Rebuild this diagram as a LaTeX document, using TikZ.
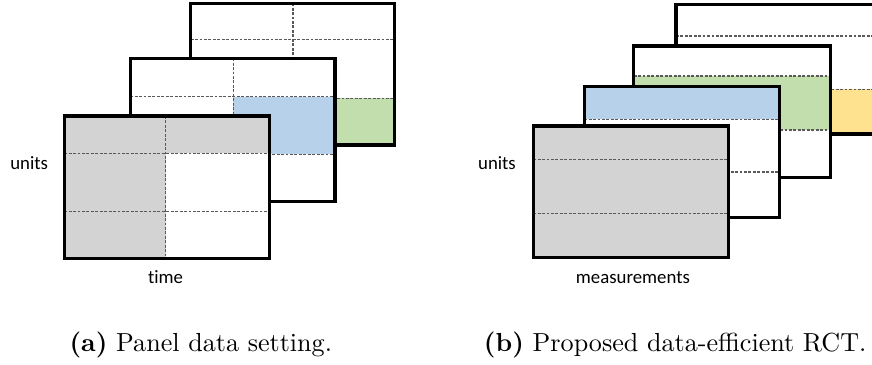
\documentclass[tikz,border=0pt]{standalone}
\usepackage{fontspec}
\newfontfamily\lblfont{Carlito}[Ligatures={NoCommon}]
\definecolor{cellgray}{RGB}{211,211,211}
\definecolor{cellblue}{RGB}{183,209,234}
\definecolor{cellgreen}{RGB}{193,222,172}
\definecolor{cellyellow}{RGB}{255,226,143}
\tikzset{
  panelborder/.style={draw=black, line width=1.2pt, line join=miter},
  gridline/.style={draw=black!65, line width=0.45pt, dash pattern=on 1.1pt off 0.6pt},
  axislabel/.style={font=\lblfont\fontsize{7.2pt}{8.6pt}\selectfont, inner sep=0pt},
  captionlabel/.style={font=\fontsize{10pt}{12pt}\selectfont, inner sep=0pt, anchor=base},
}
\begin{document}
\begin{tikzpicture}[x=0.3831pt, y=-0.3831pt]
\useasboundingbox (0,0) rectangle (872,364);
\clip (0,0) rectangle (872,364);
\fill[white] (0,0) rectangle (872,364);

% ---------- (a) panel data setting ----------
% back panel
\fill[white] (190.7,3.3) rectangle (394.3,145);
\fill[cellgreen] (293,98.3) rectangle (394.3,145);
\draw[gridline] (293,3.3) -- (293,145);
\draw[gridline] (190.7,39.3) -- (394.3,39.3);
\draw[gridline] (190.7,98.3) -- (394.3,98.3);
\draw[panelborder] (190.7,3.3) rectangle (394.3,145);
% middle panel
\fill[white] (130.3,58.3) rectangle (335,201.7);
\fill[cellblue] (233.3,96.7) rectangle (335,154.3);
\draw[gridline] (233.3,58.3) -- (233.3,201.7);
\draw[gridline] (130.3,96.7) -- (335,96.7);
\draw[gridline] (130.3,154.3) -- (335,154.3);
\draw[panelborder] (130.3,58.3) rectangle (335,201.7);
% front panel
\fill[white] (64.3,116) rectangle (269.3,258.3);
\fill[cellgray] (64.3,116) rectangle (165.7,258.3);
\fill[cellgray] (165.7,116) rectangle (269.3,153.3);
\draw[gridline] (165.7,116) -- (165.7,258.3);
\draw[gridline] (64.3,153.3) -- (269.3,153.3);
\draw[gridline] (64.3,211.7) -- (269.3,211.7);
\draw[panelborder] (64.3,116) rectangle (269.3,258.3);

\node[axislabel] (unitsA) at (29.2,163.5) {units};
\node[axislabel] (timeA) at (165.5,277.5) {time};
\node[captionlabel] (capA) at (200.8,351) {\textbf{(a)} Panel data setting.};

% ---------- (b) proposed data-efficient RCT ----------
% panel 4 (back)
\fill[white] (676,4.3) rectangle (878,134);
\fill[cellyellow] (676,89.3) rectangle (878,134);
\draw[gridline] (676,36) -- (878,36);
\draw[gridline] (676,89.3) -- (878,89.3);
\draw[panelborder] (676,4.3) rectangle (878,134);
% panel 3
\fill[white] (633.7,46) rectangle (830.3,177.7);
\fill[cellgreen] (633.7,76) rectangle (830.3,130);
\draw[gridline] (633.7,76) -- (830.3,76);
\draw[gridline] (633.7,130) -- (830.3,130);
\draw[panelborder] (633.7,46) rectangle (830.3,177.7);
% panel 2
\fill[white] (584.3,86.7) rectangle (779.3,217.7);
\fill[cellblue] (584.3,86.7) rectangle (779.3,119.3);
\draw[gridline] (584.3,119.3) -- (779.3,119.3);
\draw[gridline] (584.3,172) -- (779.3,172);
\draw[panelborder] (584.3,86.7) rectangle (779.3,217.7);
% panel 1 (front)
\fill[cellgray] (533.3,126) rectangle (728.7,257.3);
\draw[gridline] (533.3,159.3) -- (728.7,159.3);
\draw[gridline] (533.3,213.3) -- (728.7,213.3);
\draw[panelborder] (533.3,126) rectangle (728.7,257.3);

\node[axislabel] (unitsB) at (497,163.5) {units};
\node[axislabel] (measB) at (632.9,277.5) {measurements};
\node[captionlabel] (capB) at (675.2,351) {\textbf{(b)} Proposed data-efficient RCT.};
\end{tikzpicture}
\end{document}
